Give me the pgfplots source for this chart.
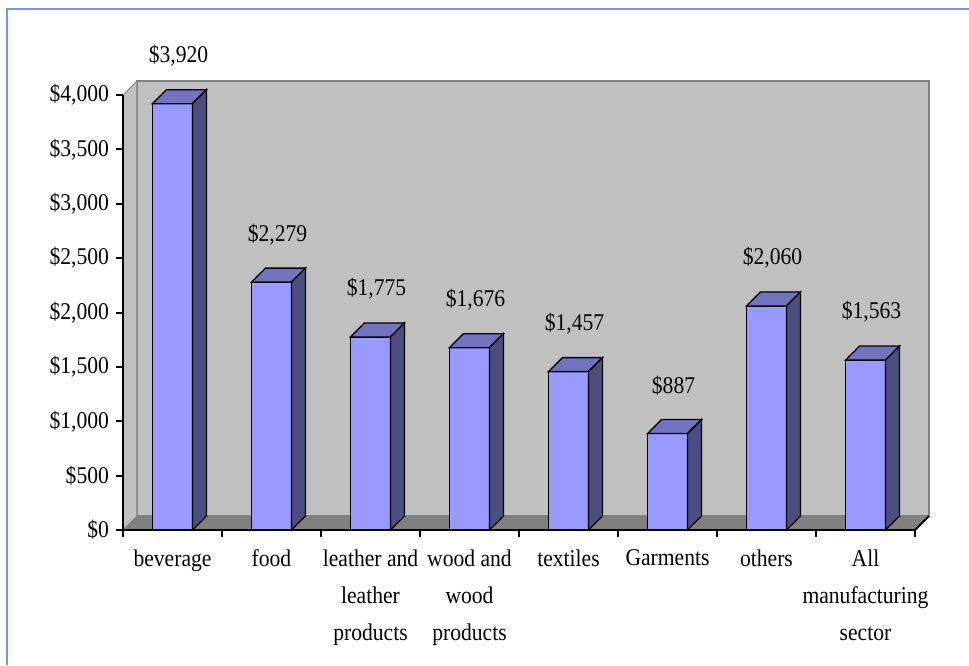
\documentclass[border=0pt]{standalone}
\usepackage{pgfplots}
\pgfplotsset{compat=1.18}
\usepackage{pgfplotstable}
\usepackage{fontspec}
\setmainfont{Liberation Serif}[FakeStretch=0.9]
\definecolor{barfront}{HTML}{9999FF}
\definecolor{bartop}{HTML}{7373C0}
\definecolor{barside}{HTML}{4D4D80}
\definecolor{wallc}{HTML}{C0C0C0}
\definecolor{floorc}{HTML}{808080}
\definecolor{framec}{HTML}{6E9CDF}

\pgfplotstableread{
x y
0 3920
1 2279
2 1775
3 1676
4 1457
5 887
6 2060
7 1563
}\data

% 3D extension of a bar: top face and right side face, drawn at the bar's top centre
\pgfdeclareplotmark{bar3d}{%
  \pgfmathsetlengthmacro\barh{\val/4000*217.5}%
  \pgfsetlinewidth{0.7pt}%
  \pgfsetstrokecolor{black}%
  \pgfpathmoveto{\pgfqpoint{-10pt}{0pt}}%
  \pgfpathlineto{\pgfqpoint{10pt}{0pt}}%
  \pgfpathlineto{\pgfqpoint{17pt}{7pt}}%
  \pgfpathlineto{\pgfqpoint{-3pt}{7pt}}%
  \pgfpathclose
  \pgfsetfillcolor{bartop}%
  \pgfusepath{fill,stroke}%
  \pgfpathmoveto{\pgfqpoint{10pt}{0pt}}%
  \pgfpathlineto{\pgfqpoint{17pt}{7pt}}%
  \pgfpathlineto{\pgfpoint{17pt}{7pt-\barh}}%
  \pgfpathlineto{\pgfpoint{10pt}{-\barh}}%
  \pgfpathclose
  \pgfsetfillcolor{barside}%
  \pgfusepath{fill,stroke}%
}

\begin{document}
\begin{tikzpicture}
\useasboundingbox (0,0) rectangle (484.5pt,332.5pt);
\fill[white] (0,0) rectangle (484.5pt,332.5pt);
\draw[framec, line width=1pt] (3.5pt,0) -- (3.5pt,328pt) -- (484.5pt,328pt);
\begin{axis}[
  at={(61.5pt,67.5pt)}, anchor=south west,
  scale only axis, width=396pt, height=217.5pt,
  xmin=-0.5, xmax=7.5, ymin=0, ymax=4000,
  enlargelimits=false, clip=false,
  axis on top,
  axis lines*=left,
  axis line style={black, line width=1pt},
  tick align=outside,
  ytick={0,500,...,4000},
  yticklabels={{\$0},{\$500},{\$1,000},{\$1,500},{\$2,000},{\$2,500},{\$3,000},{\$3,500},{\$4,000}},
  major tick length=3.5pt,
  minor tick length=3.5pt,
  every tick/.style={black, line width=1pt},
  xtick={0,...,7},
  major x tick style={draw=none},
  minor xtick={-0.5,0.5,...,7.5},
  xticklabels={beverage, food, {leather and\\leather\\products}, {wood and\\wood\\products}, textiles, Garments, others, {All\\manufacturing\\sector}},
  xticklabel style={align=center, anchor=north, yshift=-3pt, font=\fontsize{12}{18.5}\selectfont},
  yticklabel style={font=\fontsize{12}{14}\selectfont},
]
% walls and floor
\fill[wallc, draw=floorc, line width=0.8pt] (axis cs:-0.3586,128.7) rectangle (axis cs:7.6414,4128.7);
\fill[wallc, draw=floorc, line width=0.5pt] (axis cs:-0.5,0) -- (axis cs:-0.5,4000) -- (axis cs:-0.3586,4128.7) -- (axis cs:-0.3586,128.7) -- cycle;
\fill[floorc] (axis cs:-0.5,0) -- (axis cs:7.5,0) -- (axis cs:7.6414,128.7) -- (axis cs:-0.3586,128.7) -- cycle;
\draw[black, line width=1pt] (axis cs:7.5,0) -- (axis cs:7.6414,128.7);

\addplot[mark=bar3d, only marks,
  visualization depends on={\thisrow{y} \as \val},
  nodes near coords={\$\pgfmathprintnumber[assume math mode=true, 1000 sep={,}]{\pgfplotspointmeta}},
  every node near coord/.append style={anchor=center, yshift=24pt, xshift=3pt, black, font=\fontsize{12}{14}\selectfont},
] table[x=x, y=y] {\data};

\addplot[ybar, bar width=20pt, bar shift=0pt, fill=barfront, draw=black, line width=0.7pt] table[x=x, y=y] {\data};
\end{axis}
\end{tikzpicture}
\end{document}
